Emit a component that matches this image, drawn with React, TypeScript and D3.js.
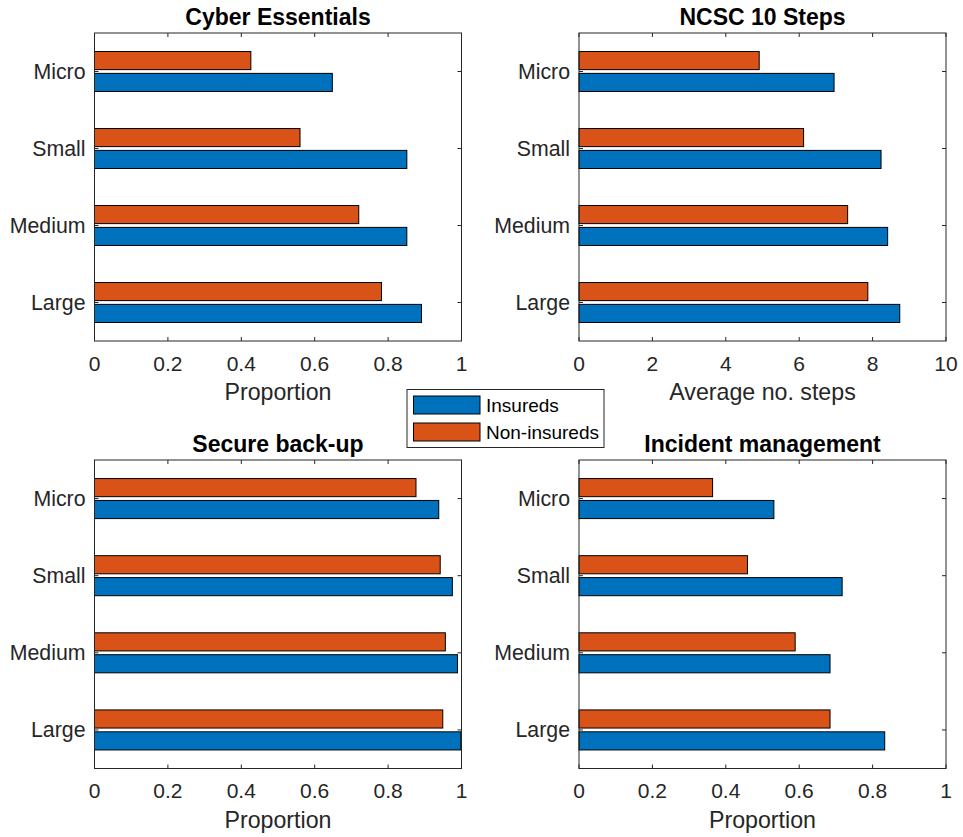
import React from "react";
import * as d3 from "d3";

const categories = ["Micro", "Small", "Medium", "Large"];
const seriesNames = ["Insureds", "Non-insureds"];

const titles = ["Cyber Essentials", "NCSC 10 Steps", "Secure back-up", "Incident management"];
const xLabels = ["Proportion", "Average no. steps", "Proportion", "Proportion"];
const xMax = [1, 10, 1, 1];
const xTicks = [
  [0, 0.2, 0.4, 0.6, 0.8, 1],
  [0, 2, 4, 6, 8, 10],
  [0, 0.2, 0.4, 0.6, 0.8, 1],
  [0, 0.2, 0.4, 0.6, 0.8, 1],
];

const cyberInsured = [0.648, 0.851, 0.851, 0.891];
const cyberNon = [0.426, 0.56, 0.72, 0.782];
const ncscInsured = [6.95, 8.23, 8.41, 8.74];
const ncscNon = [4.91, 6.12, 7.32, 7.87];
const backupInsured = [0.938, 0.975, 0.989, 0.998];
const backupNon = [0.876, 0.942, 0.956, 0.949];
const incidentInsured = [0.531, 0.717, 0.684, 0.833];
const incidentNon = [0.364, 0.459, 0.589, 0.684];

const insured = [cyberInsured, ncscInsured, backupInsured, incidentInsured];
const nonInsured = [cyberNon, ncscNon, backupNon, incidentNon];

const BLUE = "#0072BD";
const ORANGE = "#D95319";
const AX = "#262626";
const FONT = "'Liberation Sans', Arial, Helvetica, sans-serif";

const panels = [
  { left: 94.5, right: 461.5, top: 33, bottom: 341 },
  { left: 579, right: 946, top: 33, bottom: 341 },
  { left: 94.5, right: 461.5, top: 460, bottom: 768.5 },
  { left: 579, right: 946, top: 460, bottom: 768.5 },
];

function Panel({ i }: { i: number }) {
  const p = panels[i];
  const x = d3.scaleLinear().domain([0, xMax[i]]).range([p.left, p.right]);
  const y = d3.scaleLinear().domain([0.5, 4.5]).range([p.top, p.bottom]);
  const barH = y(0.735) - y(0.5);
  const off = 0.142;
  const tl = 4;
  const fmt = (v: number) => (xMax[i] === 1 ? d3.format("~g")(v) : String(v));
  return (
    <g>
      {categories.map((c, k) => (
        <g key={c}>
          <rect
            x={x(0)}
            y={y(k + 1 - off) - barH / 2}
            width={x(nonInsured[i][k]) - x(0)}
            height={barH}
            fill={ORANGE}
            stroke="#000"
            strokeWidth={1}
          />
          <rect
            x={x(0)}
            y={y(k + 1 + off) - barH / 2}
            width={x(insured[i][k]) - x(0)}
            height={barH}
            fill={BLUE}
            stroke="#000"
            strokeWidth={1}
          />
        </g>
      ))}
      <rect x={p.left} y={p.top} width={p.right - p.left} height={p.bottom - p.top} fill="none" stroke={AX} strokeWidth={1} />
      {xTicks[i].map((t) => (
        <g key={t}>
          <line x1={x(t)} x2={x(t)} y1={p.bottom} y2={p.bottom - tl} stroke={AX} />
          <line x1={x(t)} x2={x(t)} y1={p.top} y2={p.top + tl} stroke={AX} />
          <text x={x(t)} y={p.bottom + 29.5} textAnchor="middle" fontSize={21} fill={AX} fontFamily={FONT}>
            {fmt(t)}
          </text>
        </g>
      ))}
      {categories.map((c, k) => (
        <g key={c}>
          <line x1={p.left} x2={p.left + tl} y1={y(k + 1)} y2={y(k + 1)} stroke={AX} />
          <line x1={p.right} x2={p.right - tl} y1={y(k + 1)} y2={y(k + 1)} stroke={AX} />
          <text x={p.left - 9} y={y(k + 1)} dy="0.35em" textAnchor="end" fontSize={21.3} fill={AX} fontFamily={FONT}>
            {c}
          </text>
        </g>
      ))}
      <text x={(p.left + p.right) / 2} y={p.bottom + 59} textAnchor="middle" fontSize={23.2} fill={AX} fontFamily={FONT}>
        {xLabels[i]}
      </text>
      <text x={(p.left + p.right) / 2} y={p.top - 8.5} textAnchor="middle" fontSize={23} fontWeight="bold" fill="#000" fontFamily={FONT}>
        {titles[i]}
      </text>
    </g>
  );
}

export default function App() {
  const legendColors = [BLUE, ORANGE];
  return (
    <svg width={963} height={837} style={{ position: "absolute", left: 0, top: 0, background: "#fff" }}>
      <rect width={963} height={837} fill="#fff" />
      {panels.map((_, i) => (
        <Panel key={i} i={i} />
      ))}
      <g>
        <rect x={407} y={389.5} width={197} height={58} fill="#fff" stroke={AX} strokeWidth={1} />
        {seriesNames.map((s, k) => (
          <g key={s}>
            <rect x={413.5} y={396 + k * 27} width={66.5} height={18} fill={legendColors[k]} stroke="#000" strokeWidth={1} />
            <text x={486} y={405 + k * 27} dy="0.35em" fontSize={19} fill="#000" fontFamily={FONT}>
              {s}
            </text>
          </g>
        ))}
      </g>
    </svg>
  );
}
